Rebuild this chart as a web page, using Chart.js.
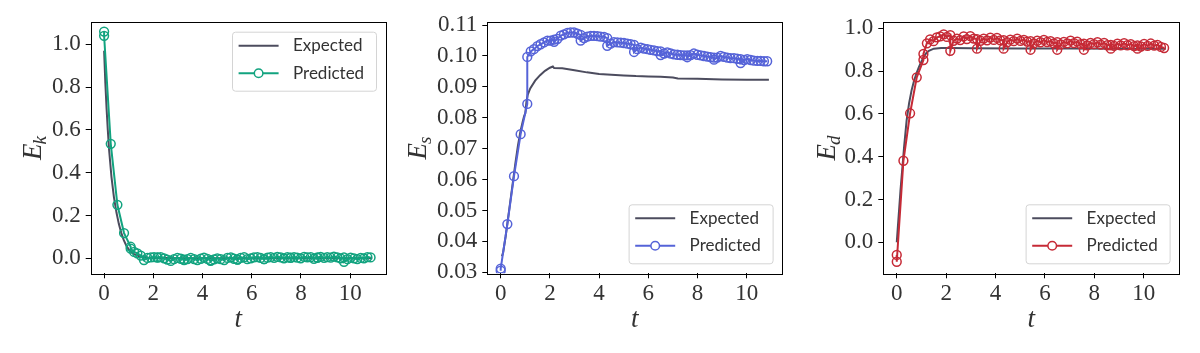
<!DOCTYPE html>
<html>
<head>
<meta charset="utf-8">
<script src="https://cdn.jsdelivr.net/npm/chart.js@4/dist/chart.umd.min.js"></script>
<style>
  body { margin: 0; background: #fff; }
  #wrap { position: relative; width: 1200px; height: 353px; }
  .panel { position: absolute; top: 0; width: 400px; height: 353px; }
</style>
</head>
<body>
<div id="wrap">
  <div class="panel" style="left:0px"><canvas id="ek" width="400" height="353"></canvas></div>
  <div class="panel" style="left:400px"><canvas id="es" width="400" height="353"></canvas></div>
  <div class="panel" style="left:800px"><canvas id="ed" width="400" height="353"></canvas></div>
</div>
<script>
// time grid of the predicted runs (windows restart, so boundary times repeat)
const tPred = [0, 0, 0.27, 0.54, 0.81, 1.08,
  1.08, 1.22, 1.35, 1.49, 1.62, 1.76, 1.90, 2.03, 2.17,
  2.17, 2.30, 2.44, 2.57, 2.71, 2.84, 2.98, 3.12, 3.25,
  3.25, 3.39, 3.52, 3.66, 3.79, 3.93, 4.06, 4.20, 4.33,
  4.33, 4.47, 4.60, 4.74, 4.88, 5.01, 5.15, 5.28, 5.42,
  5.42, 5.55, 5.69, 5.82, 5.96, 6.09, 6.23, 6.36, 6.50,
  6.50, 6.64, 6.77, 6.91, 7.04, 7.18, 7.31, 7.45, 7.58,
  7.58, 7.72, 7.85, 7.99, 8.13, 8.26, 8.40, 8.53, 8.67,
  8.67, 8.80, 8.94, 9.07, 9.21, 9.34, 9.48, 9.61, 9.75,
  9.75, 9.89, 10.02, 10.16, 10.29, 10.43, 10.56, 10.70, 10.83];

// E_k
const ekPred = [1.06, 1.04, 0.535, 0.25, 0.118, 0.054,
  0.045, 0.030, 0.023, 0.013, -0.008, 0.002, 0.004, 0.006, 0.003,
  0.004, 0.006, 0.000, -0.006, -0.012, -0.004, 0.002, -0.002, -0.006,
  -0.008, -0.004, 0.002, -0.004, -0.008, -0.002, 0.003, -0.003, -0.010,
  -0.012, -0.005, 0.000, -0.004, -0.008, 0.002, 0.004, -0.002, -0.006,
  -0.006, 0.002, 0.005, -0.004, 0.000, 0.004, 0.006, 0.002, -0.004,
  -0.004, 0.003, 0.006, 0.002, 0.007, 0.004, 0.000, 0.005, 0.003,
  0.002, 0.006, 0.003, 0.000, 0.007, 0.004, 0.006, -0.002, 0.002,
  0.004, 0.007, 0.002, 0.006, 0.003, 0.008, 0.004, 0.000, 0.004,
  -0.016, -0.004, 0.003, 0.000, -0.004, 0.002, 0.000, 0.006, 0.004];
const tEk = [0, 0.05, 0.1, 0.15, 0.2, 0.3, 0.4, 0.5, 0.6, 0.7, 0.8, 0.9, 1.0, 1.1, 1.2,
  1.4, 1.6, 1.8, 2.0, 2.5, 3, 4, 5, 6, 7, 8, 9, 10, 10.9];
const ekExp = [0.97, 0.82, 0.70, 0.60, 0.51, 0.38, 0.285, 0.215, 0.16, 0.118, 0.085, 0.06, 0.042, 0.03, 0.021,
  0.011, 0.006, 0.003, 0.002, 0.001, 0, 0, 0, 0, 0, 0, 0, 0, 0];

// E_s
const esPred = [0.0305, 0.0312, 0.0456, 0.0611, 0.0747, 0.0845,
  0.0997, 0.1015, 0.1022, 0.1032, 0.1038, 0.1044, 0.1050, 0.1050, 0.1053,
  0.1046, 0.1055, 0.1066, 0.1070, 0.1075, 0.1076, 0.1076, 0.1072, 0.1068,
  0.1050, 0.1058, 0.1063, 0.1065, 0.1065, 0.1064, 0.1063, 0.1062, 0.1058,
  0.1033, 0.1040, 0.1045, 0.1044, 0.1043, 0.1042, 0.1040, 0.1038, 0.1036,
  0.1013, 0.1022, 0.1027, 0.1024, 0.1022, 0.1020, 0.1018, 0.1016, 0.1015,
  0.1003, 0.1008, 0.1012, 0.1008, 0.1005, 0.1004, 0.1003, 0.1002, 0.1002,
  0.0996, 0.1003, 0.1008, 0.1004, 0.1002, 0.1000, 0.0998, 0.0996, 0.0995,
  0.0988, 0.0995, 0.1000, 0.0997, 0.0995, 0.0993, 0.0993, 0.0991, 0.0990,
  0.0977, 0.0987, 0.0990, 0.0987, 0.0985, 0.0984, 0.0984, 0.0983, 0.0983];
const tEs = [0.05, 0.1, 0.2, 0.3, 0.4, 0.5, 0.6, 0.7, 0.8, 0.9, 0.95, 1.0, 1.05, 1.1, 1.2, 1.4, 1.6, 1.8,
  2.0, 2.12, 2.17, 2.5, 3, 3.5, 4, 4.33, 5, 5.5, 6, 6.5, 7, 7.2, 8, 9, 10, 10.9];
const esExp = [0.0352, 0.0365, 0.0415, 0.0475, 0.0535, 0.0595, 0.0655, 0.071, 0.0755, 0.079, 0.0805, 0.0815,
  0.0855, 0.0875, 0.0895, 0.092, 0.0938, 0.0952, 0.0962, 0.0966, 0.0961, 0.0960, 0.0954, 0.0947, 0.0942,
  0.0940, 0.0937, 0.0935, 0.0934, 0.0933, 0.0930, 0.0927, 0.0926, 0.0924, 0.0923, 0.0923];

// E_d
const edPred = [-0.059, -0.091, 0.381, 0.603, 0.771, 0.852,
  0.880, 0.930, 0.948, 0.940, 0.958, 0.962, 0.972, 0.960, 0.968,
  0.895, 0.942, 0.952, 0.945, 0.962, 0.950, 0.964, 0.952, 0.950,
  0.905, 0.942, 0.952, 0.944, 0.957, 0.946, 0.955, 0.944, 0.945,
  0.905, 0.935, 0.947, 0.940, 0.952, 0.941, 0.946, 0.938, 0.940,
  0.900, 0.930, 0.942, 0.935, 0.946, 0.936, 0.940, 0.930, 0.935,
  0.900, 0.925, 0.937, 0.930, 0.943, 0.931, 0.938, 0.926, 0.928,
  0.900, 0.920, 0.932, 0.926, 0.935, 0.924, 0.932, 0.921, 0.922,
  0.905, 0.918, 0.928, 0.920, 0.931, 0.921, 0.926, 0.917, 0.920,
  0.905, 0.915, 0.927, 0.918, 0.929, 0.919, 0.923, 0.913, 0.908];
const tEd = [0, 0.05, 0.1, 0.15, 0.2, 0.3, 0.4, 0.5, 0.6, 0.7, 0.8, 0.9, 1.0, 1.1, 1.2, 1.3, 1.5, 1.8,
  2.2, 3, 5, 7, 9, 10.9];
const edExp = [0.0, 0.08, 0.16, 0.24, 0.31, 0.45, 0.57, 0.65, 0.71, 0.755, 0.79, 0.82, 0.845, 0.868, 0.885,
  0.895, 0.905, 0.908, 0.908, 0.907, 0.906, 0.906, 0.905, 0.905];

// tick labels
const xTicks = [0, 2, 4, 6, 8, 10];
const ekTicks = [0.0, 0.2, 0.4, 0.6, 0.8, 1.0];
const esTicks = [0.03, 0.04, 0.05, 0.06, 0.07, 0.08, 0.09, 0.10, 0.11];
const edTicks = [0.0, 0.2, 0.4, 0.6, 0.8, 1.0];

const GRAY = '#4c4c5e';
const INK = '#333333';
const SERIF = '"Liberation Serif", "DejaVu Serif", serif';

// frame, axis titles and legend, drawn over the chart
const panelDeco = {
  id: 'panelDeco',
  afterDraw(chart, args, o) {
    const { ctx, chartArea: a } = chart;
    ctx.save();
    ctx.strokeStyle = '#000';
    ctx.lineWidth = 1;
    ctx.strokeRect(Math.round(a.left) + 0.5, Math.round(a.top) + 0.5,
      Math.round(a.right - a.left), Math.round(a.bottom - a.top));

    // x title
    ctx.fillStyle = INK;
    ctx.font = 'italic 27px ' + SERIF;
    ctx.textAlign = 'center';
    ctx.textBaseline = 'alphabetic';
    ctx.fillText('t', (a.left + a.right) / 2, 327);

    // y title E_sub
    ctx.save();
    ctx.translate(o.yTitleX, (a.top + a.bottom) / 2);
    ctx.rotate(-Math.PI / 2);
    ctx.textAlign = 'left';
    ctx.font = 'italic 27px ' + SERIF;
    const wE = ctx.measureText('E').width;
    ctx.font = 'italic 19px ' + SERIF;
    const wS = ctx.measureText(o.sub).width;
    const x0 = -(wE + wS) / 2;
    ctx.font = 'italic 27px ' + SERIF;
    ctx.fillText('E', x0, 0);
    ctx.font = 'italic 19px ' + SERIF;
    ctx.fillText(o.sub, x0 + wE - 1, 5);
    ctx.restore();

    // legend
    const bw = 144, bh = 59;
    const bx = a.right - 9.7 - bw;
    const by = o.legendPos === 'top' ? a.top + 10 : a.bottom - 10 - bh;
    ctx.beginPath();
    ctx.roundRect(bx + 0.5, by + 0.5, bw, bh, 3);
    ctx.fillStyle = 'rgba(255,255,255,0.85)';
    ctx.fill();
    ctx.strokeStyle = '#d4d4d4';
    ctx.stroke();
    const rows = [
      { label: 'Expected', color: GRAY, marker: false, y: by + 14 },
      { label: 'Predicted', color: o.color, marker: true, y: by + 41.5 }
    ];
    rows.forEach(r => {
      ctx.strokeStyle = r.color;
      ctx.lineWidth = 2;
      ctx.beginPath();
      ctx.moveTo(bx + 6.6, r.y);
      ctx.lineTo(bx + 46.6, r.y);
      ctx.stroke();
      if (r.marker) {
        ctx.lineWidth = 1.5;
        ctx.beginPath();
        ctx.arc(bx + 26.6, r.y, 4.3, 0, Math.PI * 2);
        ctx.fillStyle = '#fff';
        ctx.fill();
        ctx.stroke();
      }
      ctx.fillStyle = INK;
      ctx.font = '17px Lato, "Noto Sans", sans-serif';
      ctx.textAlign = 'left';
      ctx.textBaseline = 'middle';
      ctx.fillText(r.label, bx + 61, r.y);
    });
    ctx.restore();
  }
};

function toPts(xs, ys) {
  return xs.map((x, i) => ({ x, y: ys[i] }));
}

function makePanel(id, p) {
  return new Chart(document.getElementById(id), {
    type: 'scatter',
    data: {
      datasets: [
        {
          label: 'Predicted', data: toPts(tPred, p.pred), showLine: true, order: 0,
          borderColor: p.color, borderWidth: 2, backgroundColor: 'rgba(0,0,0,0)',
          pointRadius: 4.4, pointBorderWidth: 1.5, pointBorderColor: p.color,
          pointBackgroundColor: 'rgba(0,0,0,0)'
        },
        {
          label: 'Expected', data: toPts(p.tExp, p.exp), showLine: true, order: 1,
          borderColor: GRAY, borderWidth: 2, pointRadius: 0
        }
      ]
    },
    options: {
      responsive: false,
      animation: false,
      devicePixelRatio: 1,
      layout: { padding: { left: 0, top: 21.7, right: 400 - p.right, bottom: 0 } },
      plugins: {
        legend: { display: false },
        tooltip: { enabled: false },
        panelDeco: { sub: p.sub, yTitleX: p.yTitleX, legendPos: p.legendPos, color: p.color }
      },
      scales: {
        x: {
          type: 'linear', min: -0.545, max: 11.445,
          afterBuildTicks: s => { s.ticks = xTicks.map(v => ({ value: v })); },
          afterFit: s => { s.height = 353 - 273.3; },
          ticks: { color: INK, font: { family: SERIF, size: 23 }, padding: 2, maxRotation: 0,
            callback: v => String(v) },
          grid: { drawOnChartArea: false, drawTicks: true, tickLength: 5, color: '#000' },
          border: { display: false }
        },
        y: {
          type: 'linear', min: p.ymin, max: p.ymax,
          afterBuildTicks: s => { s.ticks = p.yTicks.map(v => ({ value: v })); },
          afterFit: s => { s.width = p.left; },
          ticks: { color: INK, font: { family: SERIF, size: 23 }, padding: 5,
            callback: v => v.toFixed(p.dec) },
          grid: { drawOnChartArea: false, drawTicks: true, tickLength: 5, color: '#000' },
          border: { display: false }
        }
      }
    },
    plugins: [panelDeco]
  });
}

makePanel('ek', { pred: ekPred, tExp: tEk, exp: ekExp, color: '#12a37f', sub: 'k',
  yTicks: ekTicks, dec: 1, ymin: -0.070, ymax: 1.106, left: 90.7, right: 385.7,
  yTitleX: 41, legendPos: 'top' });
makePanel('es', { pred: esPred, tExp: tEs, exp: esExp, color: '#5563d8', sub: 's',
  yTicks: esTicks, dec: 2, ymin: 0.02966, ymax: 0.1111, left: 87.3, right: 382.3,
  yTitleX: 26, legendPos: 'bottom' });
makePanel('ed', { pred: edPred, tExp: tEd, exp: edExp, color: '#c62a36', sub: 'd',
  yTicks: edTicks, dec: 1, ymin: -0.145, ymax: 1.031, left: 83.3, right: 379.3,
  yTitleX: 35, legendPos: 'bottom' });
</script>
</body>
</html>
